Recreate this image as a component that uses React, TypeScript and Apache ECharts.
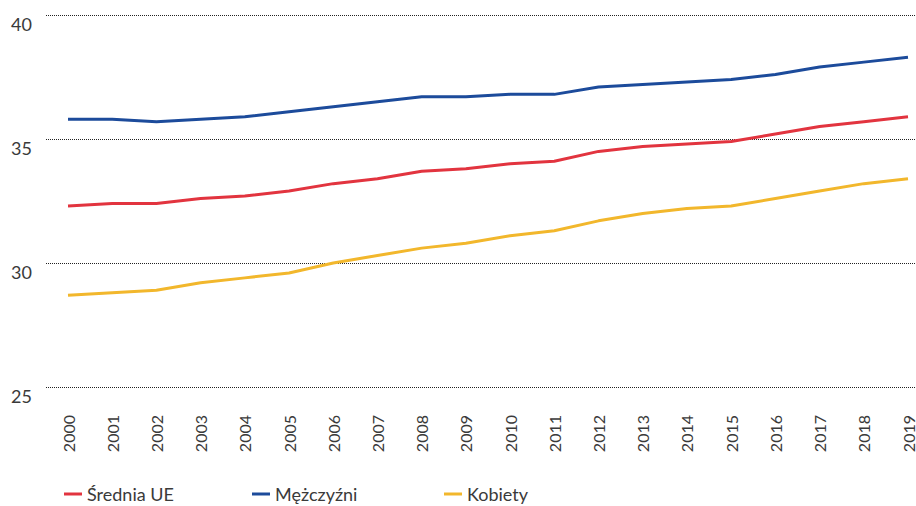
import React, { useEffect, useRef } from "react";
import * as echarts from "echarts";

// Years on the horizontal axis
const years: string[] = [
  "2000", "2001", "2002", "2003", "2004", "2005", "2006", "2007", "2008", "2009",
  "2010", "2011", "2012", "2013", "2014", "2015", "2016", "2017", "2018", "2019",
];

// Series values
const sredniaUE: number[] = [
  32.3, 32.4, 32.4, 32.6, 32.7, 32.9, 33.2, 33.4, 33.7, 33.8,
  34.0, 34.1, 34.5, 34.7, 34.8, 34.9, 35.2, 35.5, 35.7, 35.9,
];
const mezczyzni: number[] = [
  35.8, 35.8, 35.7, 35.8, 35.9, 36.1, 36.3, 36.5, 36.7, 36.7,
  36.8, 36.8, 37.1, 37.2, 37.3, 37.4, 37.6, 37.9, 38.1, 38.3,
];
const kobiety: number[] = [
  28.7, 28.8, 28.9, 29.2, 29.4, 29.6, 30.0, 30.3, 30.6, 30.8,
  31.1, 31.3, 31.7, 32.0, 32.2, 32.3, 32.6, 32.9, 33.2, 33.4,
];

// Value axis range
const yMin = 25;
const yMax = 40;
const yStep = 5;

const seriesNames = ["Średnia UE", "Mężczyźni", "Kobiety"];
const seriesColors = ["#e2343f", "#1c4b9b", "#f2b72c"];
const seriesData = [sredniaUE, mezczyzni, kobiety];

const FONT = "Lato, 'Noto Sans', sans-serif";
const TEXT_COLOR = "#3a3a3a";

export default function App() {
  const ref = useRef<HTMLDivElement>(null);

  useEffect(() => {
    if (!ref.current) return;
    const chart = echarts.init(ref.current, undefined, { renderer: "svg" });

    const legendLefts = [64, 252, 444];

    chart.setOption({
      animation: false,
      backgroundColor: "#ffffff",
      textStyle: { fontFamily: FONT },
      grid: [
        // wide grid carrying the dotted value gridlines and labels
        { left: 46, right: 0, top: 15, height: 372 },
        // inner grid holding the lines, first and last year on its edges
        { left: 68, right: 8, top: 15, height: 372 },
      ],
      legend: seriesNames.map((name, i) => ({
        data: [name],
        left: legendLefts[i],
        top: 484,
        padding: 0,
        icon: "rect",
        itemWidth: 18,
        itemHeight: 3,
        textStyle: {
          fontFamily: FONT,
          fontSize: 18,
          lineHeight: 20,
          color: TEXT_COLOR,
        },
        selectedMode: false,
      })),
      xAxis: [
        {
          type: "value",
          gridIndex: 0,
          show: false,
          splitLine: { show: false },
        },
        {
          type: "category",
          gridIndex: 1,
          data: years,
          boundaryGap: false,
          axisLine: { show: false },
          axisTick: { show: false },
          splitLine: { show: false },
          axisLabel: {
            rotate: 90,
            margin: 28,
            interval: 0,
            fontFamily: FONT,
            fontSize: 16,
            color: TEXT_COLOR,
          },
        },
      ],
      yAxis: [
        {
          type: "value",
          gridIndex: 0,
          min: yMin,
          max: yMax,
          interval: yStep,
          axisLine: { show: false },
          axisTick: { show: false },
          splitLine: {
            show: true,
            lineStyle: { type: "dotted", color: "#222", width: 1 },
          },
          axisLabel: {
            align: "left",
            verticalAlign: "top",
            margin: 35,
            lineHeight: 18,
            fontFamily: FONT,
            fontSize: 18,
            color: TEXT_COLOR,
          },
        },
        {
          type: "value",
          gridIndex: 1,
          min: yMin,
          max: yMax,
          interval: yStep,
          show: false,
          splitLine: { show: false },
        },
      ],
      series: seriesNames.map((name, i) => ({
        name,
        type: "line",
        xAxisIndex: 1,
        yAxisIndex: 1,
        data: seriesData[i],
        symbol: "none",
        color: seriesColors[i],
        lineStyle: { width: 3, color: seriesColors[i] },
        z: 3 - i,
      })),
    });

    return () => chart.dispose();
  }, []);

  return (
    <div
      ref={ref}
      style={{ position: "fixed", left: 0, top: 0, width: 916, height: 506 }}
    />
  );
}
